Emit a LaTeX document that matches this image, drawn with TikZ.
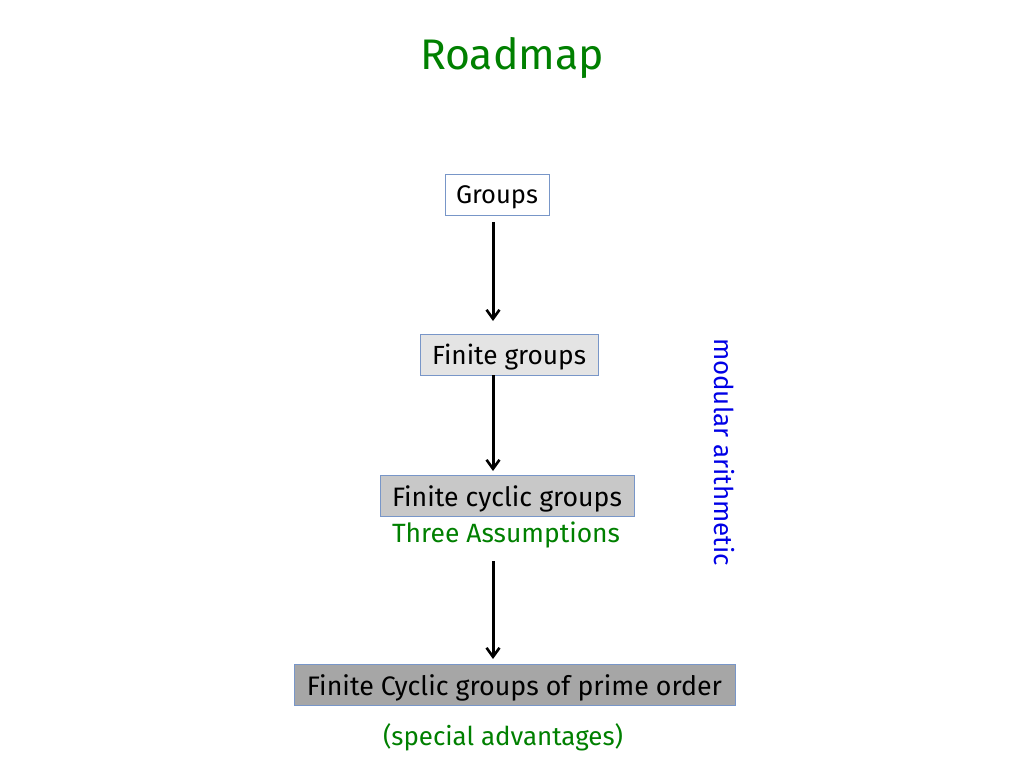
\documentclass[tikz,border=0pt]{standalone}
\usepackage{fontspec}
\setmainfont{Fira Sans}
\usetikzlibrary{arrows.meta}
\definecolor{tgreen}{RGB}{0,128,0}
\definecolor{tblue}{RGB}{0,0,230}
\definecolor{bordblue}{RGB}{120,150,200}
\definecolor{fillA}{RGB}{228,228,228}
\definecolor{fillB}{RGB}{200,200,200}
\definecolor{fillC}{RGB}{166,166,166}
\newcommand{\fitw}[2]{\raisebox{-3pt}[\height][\depth]{\resizebox{#1pt}{!}{\fontsize{24}{28}\selectfont #2}}}
\begin{document}
\begin{tikzpicture}[x=1pt,y=-1pt,
  box/.style={draw=bordblue, line width=1pt, inner sep=0pt, minimum height=41pt},
  lbl/.style={inner sep=0pt},
  arr/.style={line width=3pt, -{Straight Barb[length=9pt,width=13pt,line width=2.6pt]}}]
\useasboundingbox[fill=white] (0,0) rectangle (1024,768);
% title
\node[lbl, text=tgreen] (title) at (512,55) {\fitw{184}{Roadmap}};
% boxes
\node[box, fill=white, minimum width=104pt] (g) at (497,194.5) {\fitw{82}{Groups}};
\node[box, fill=fillA, minimum width=178pt] (fg) at (509,354.5) {\fitw{154}{Finite groups}};
\node[box, fill=fillB, minimum width=254pt] (fcg) at (507,495.5) {\fitw{230}{Finite cyclic groups}};
\node[lbl, text=tgreen] (three) at (506,532) {\fitw{228}{Three Assumptions}};
\node[box, fill=fillC, minimum width=441pt] (fcp) at (514.5,684.5) {\fitw{415}{Finite Cyclic groups of prime order}};
\node[lbl, text=tgreen] (spec) at (503,734) {\fitw{240}{(special advantages)}};
\node[lbl, text=tblue, rotate=-90] (mod) at (727,452) {\fitw{228}{modular arithmetic}};
% connector points
\coordinate (a1s) at (493,222);
\coordinate (a1e) at (493,321);
\coordinate (a2s) at (493,375);
\coordinate (a2e) at (493,471);
\coordinate (a3s) at (493,561);
\coordinate (a3e) at (493,659);
\draw[arr] (a1s) -- (a1e);
\draw[arr] (a2s) -- (a2e);
\draw[arr] (a3s) -- (a3e);
\end{tikzpicture}
\end{document}
